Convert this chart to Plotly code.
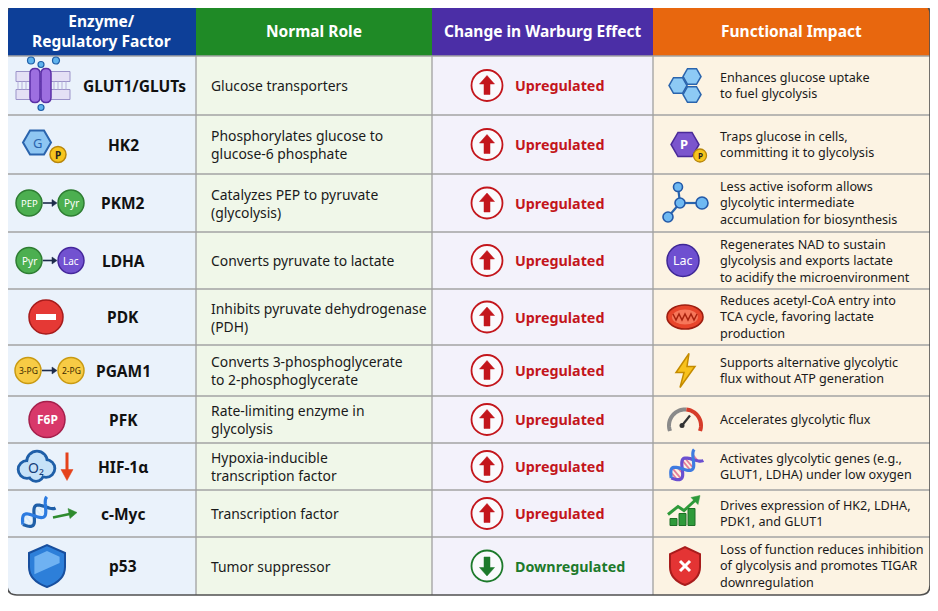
import math
import plotly.graph_objects as go

W, H = 938, 611
OFF = 8  # browser body margin

headers = ["Enzyme/<br>Regulatory Factor", "Normal Role", "Change in Warburg Effect", "Functional Impact"]
factors = ["GLUT1/GLUTs", "HK2", "PKM2", "LDHA", "PDK", "PGAM1", "PFK", "HIF-1α", "c-Myc", "p53"]
roles = [
    "Glucose transporters",
    "Phosphorylates glucose to<br>glucose-6 phosphate",
    "Catalyzes PEP to pyruvate<br>(glycolysis)",
    "Converts pyruvate to lactate",
    "Inhibits pyruvate dehydrogenase<br>(PDH)",
    "Converts 3-phosphoglycerate<br>to 2-phosphoglycerate",
    "Rate-limiting enzyme in<br>glycolysis",
    "Hypoxia-inducible<br>transcription factor",
    "Transcription factor",
    "Tumor suppressor",
]
changes = ["Upregulated"] * 9 + ["Downregulated"]
impacts = [
    "Enhances glucose uptake<br>to fuel glycolysis",
    "Traps glucose in cells,<br>committing it to glycolysis",
    "Less active isoform allows<br>glycolytic intermediate<br>accumulation for biosynthesis",
    "Regenerates NAD to sustain<br>glycolysis and exports lactate<br>to acidify the microenvironment",
    "Reduces acetyl-CoA entry into<br>TCA cycle, favoring lactate<br>production",
    "Supports alternative glycolytic<br>flux without ATP generation",
    "Accelerates glycolytic flux",
    "Activates glycolytic genes (e.g.,<br>GLUT1, LDHA) under low oxygen",
    "Drives expression of HK2, LDHA,<br>PDK1, and GLUT1",
    "Loss of function reduces inhibition<br>of glycolysis and promotes TIGAR<br>downregulation",
]

# ---------------- geometry / style ----------------
col_edges = [7, 196, 432, 653, 930]
row_edges = [4, 56, 115, 174, 232, 289, 345, 396, 443, 490, 537, 595]
head_colors = ["#0d3f98", "#1f8a26", "#4b2ea6", "#e8670e"]
body_colors = ["#eaf2fb", "#f0f7e9", "#f3f2fb", "#fcf3e3"]
FONT = "Noto Sans"

shapes = []
annots = []


def rrect(x0, y0, x1, y1, tl=0, tr=0, br=0, bl=0):
    p = f"M {x0+tl},{y0} L {x1-tr},{y0} "
    p += f"Q {x1},{y0} {x1},{y0+tr} " if tr else ""
    p += f"L {x1},{y1-br} "
    p += f"Q {x1},{y1} {x1-br},{y1} " if br else ""
    p += f"L {x0+bl},{y1} "
    p += f"Q {x0},{y1} {x0},{y1-bl} " if bl else ""
    p += f"L {x0},{y0+tl} "
    p += f"Q {x0},{y0} {x0+tl},{y0} " if tl else ""
    return p + "Z"


def poly(pts, close=True):
    s = "M " + " L ".join(f"{x:.2f},{y:.2f}" for x, y in pts)
    return s + (" Z" if close else "")


def add_path(path, fill=None, line=None, lw=1.0):
    d = dict(type="path", path=path, xref="x", yref="y", layer="above",
             line=dict(color=line if line else "rgba(0,0,0,0)", width=lw if line else 0))
    if fill:
        d["fillcolor"] = fill
    shapes.append(d)


def circle(cx, cy, r, fill=None, line=None, lw=1.0, ry=None):
    ry = r if ry is None else ry
    d = dict(type="circle", xref="x", yref="y", x0=cx - r, x1=cx + r, y0=cy - ry, y1=cy + ry,
             layer="above", line=dict(color=line if line else "rgba(0,0,0,0)", width=lw if line else 0))
    if fill:
        d["fillcolor"] = fill
    shapes.append(d)


def rect(x0, y0, x1, y1, fill, line=None, lw=0):
    shapes.append(dict(type="rect", xref="x", yref="y", x0=x0, x1=x1, y0=y0, y1=y1, layer="above",
                       fillcolor=fill, line=dict(color=line if line else "rgba(0,0,0,0)", width=lw)))


def seg(x0, y0, x1, y1, color, lw):
    shapes.append(dict(type="line", xref="x", yref="y", x0=x0, x1=x1, y0=y0, y1=y1, layer="above",
                       line=dict(color=color, width=lw)))


def text(x, y, s, size, color, bold=False, anchor="center", fam=FONT):
    annots.append(dict(x=x, y=y, xref="x", yref="y", text=f"<b>{s}</b>" if bold else s,
                       showarrow=False, xanchor=anchor, yanchor="middle",
                       xshift=-2 if anchor == "left" else 0,
                       align=anchor if anchor != "center" else "center",
                       font=dict(family=fam, size=size, color=color)))


def hexagon(cx, cy, r, fill, line, lw=1.5):
    pts = [(cx + r * math.cos(math.radians(a)), cy + r * math.sin(math.radians(a))) for a in range(0, 360, 60)]
    add_path(poly(pts), fill, line, lw)


def arrow_small(x0, x1, y, color="#1d2b4a"):
    seg(x0, y, x1 - 4, y, color, 1.6)
    add_path(poly([(x1 - 5, y - 3.5), (x1, y), (x1 - 5, y + 3.5)]), color, color, 0.5)


def shield(cx, cy, w, h, fill, line, light=None):
    p = (f"M {cx-w},{cy-h*0.62} L {cx},{cy-h} L {cx+w},{cy-h*0.62} L {cx+w},{cy+0.05*h} "
         f"Q {cx+w},{cy+0.7*h} {cx},{cy+h} Q {cx-w},{cy+0.7*h} {cx-w},{cy+0.05*h} Z")
    add_path(p, fill, line, 2)
    if light:
        w2, h2 = w * 0.7, h * 0.72
        p2 = (f"M {cx-w2},{cy-h2*0.62} L {cx},{cy-h2} L {cx+w2},{cy-h2*0.62} L {cx+w2},{cy-0.2*h2} "
              f"L {cx-w2},{cy+0.55*h2} Z")
        add_path(p2, light, None)


def dna(cx, cy, c1, c2, rung, length=30, amp=6, ang=-35):
    a = math.radians(ang)
    ca, sa = math.cos(a), math.sin(a)

    def tr(u, v):
        return (cx + u * ca - v * sa, cy + u * sa + v * ca)

    n = 40
    s1 = [tr(-length / 2 + length * i / n, amp * math.sin(2 * math.pi * 1.25 * i / n)) for i in range(n + 1)]
    s2 = [tr(-length / 2 + length * i / n, -amp * math.sin(2 * math.pi * 1.25 * i / n)) for i in range(n + 1)]
    for k in range(1, 9):
        i = int(k * n / 9)
        u = -length / 2 + length * i / n
        v = amp * math.sin(2 * math.pi * 1.25 * i / n)
        p, q = tr(u, v), tr(u, -v)
        seg(p[0], p[1], q[0], q[1], rung, 1.8)
    add_path(poly(s1, False), None, c1, 3.2)
    add_path(poly(s2, False), None, c2, 3.2)


# ---------------- cells ----------------
nrows = len(factors)
for c in range(4):
    x0, x1 = col_edges[c], col_edges[c + 1]
    tl = 10 if c == 0 else 0
    tr = 10 if c == 3 else 0
    shapes.append(dict(type="path", path=rrect(x0, row_edges[0], x1, row_edges[1], tl, tr, 0, 0),
                       xref="x", yref="y", fillcolor=head_colors[c], line=dict(width=0), layer="below"))
    bl = 10 if c == 0 else 0
    br = 10 if c == 3 else 0
    shapes.append(dict(type="path", path=rrect(x0, row_edges[1], x1, row_edges[-1], 0, 0, br, bl),
                       xref="x", yref="y", fillcolor=body_colors[c], line=dict(width=0), layer="below"))
    text((x0 + x1) / 2, (row_edges[0] + row_edges[1]) / 2 + 1, headers[c], 15.5, "white", bold=True)

# grid lines
for r in range(1, nrows + 1):
    shapes.append(dict(type="line", xref="x", yref="y", x0=col_edges[0], x1=col_edges[-1],
                       y0=row_edges[r], y1=row_edges[r], line=dict(color="#a3a3a3", width=1.3), layer="below"))
for c in range(1, 4):
    shapes.append(dict(type="line", xref="x", yref="y", x0=col_edges[c], x1=col_edges[c],
                       y0=row_edges[1], y1=row_edges[-1], line=dict(color="#a0a0a0", width=1.3), layer="below"))

# outer frame
shapes.append(dict(type="path", path=rrect(col_edges[0], row_edges[0], col_edges[-1], row_edges[-1], 10, 10, 10, 10),
                   xref="x", yref="y", line=dict(color="#505050", width=1.6), layer="above"))

# ---------------- texts ----------------
cy = [(row_edges[i + 1] + row_edges[i + 2]) / 2 for i in range(nrows)]
for i in range(nrows):
    text(123 if i else 134, cy[i], factors[i], 15.5, "#111111", bold=True)
    text(211, cy[i], roles[i], 13.9, "#1a1a1a", anchor="left")
    up = changes[i] == "Upregulated"
    col = "#c3161c" if up else "#1d7a2b"
    text(515, cy[i], changes[i], 14.3, col, bold=True, anchor="left")
    text(720, cy[i], impacts[i], 12.6, "#1a1a1a", anchor="left")
    # change icon
    circle(487, cy[i], 15.5, "rgba(255,255,255,0.6)", col, 1.8)
    y = cy[i]
    if up:
        add_path(poly([(487, y - 10), (494.5, y - 1.5), (490, y - 1.5), (490, y + 9), (484, y + 9),
                       (484, y - 1.5), (479.5, y - 1.5)]), col, col, 0.5)
    else:
        add_path(poly([(487, y + 10), (494.5, y + 1.5), (490, y + 1.5), (490, y - 9), (484, y - 9),
                       (484, y + 1.5), (479.5, y + 1.5)]), col, col, 0.5)

# ---------------- column-1 icons ----------------
# GLUT1: membrane with transporter
y = cy[0]
for yy in (y - 9, y + 9):
    rect(16, yy - 5, 70, yy + 5, "#e4e0f5", "#9b93c9", 1)
for xx in range(18, 70, 4):
    seg(xx, y - 4, xx, y + 4, "#b6afd9", 1)
add_path(rrect(30, y - 17, 40, y + 17, 5, 5, 5, 5), "#9d6fe0", "#5b2fa6", 1.5)
add_path(rrect(41, y - 17, 51, y + 17, 5, 5, 5, 5), "#9d6fe0", "#5b2fa6", 1.5)
for (xx, yy, rr) in [(31, y - 25, 3.5), (56, y - 25, 3.5), (41, y - 21, 3), (41, y + 22, 3)]:
    circle(xx, yy, rr, "#5fb3ee", "#1f5fa8", 1.2)

# HK2
y = cy[1]
hexagon(37, y - 2, 14, "#8ec6f2", "#2a64ad", 2)
text(37, y - 2, "G", 13, "#2a64ad")
circle(58, y + 10, 8, "#f7c51e", "#b8860b", 1.5)
text(58, y + 10, "<b>P</b>", 10, "#222")

# PKM2
y = cy[2]
circle(29, y, 13, "#4caf50", "#2e7d32", 1.5)
text(29, y, "PEP", 9.5, "white")
arrow_small(43, 57, y)
circle(71, y, 13, "#4caf50", "#2e7d32", 1.5)
text(71, y, "Pyr", 10, "white")

# LDHA
y = cy[3]
circle(29, y, 13, "#4caf50", "#2e7d32", 1.5)
text(29, y, "Pyr", 10, "white")
arrow_small(43, 57, y)
circle(71, y, 13, "#7252d0", "#45279c", 1.5)
text(71, y, "Lac", 10, "white")

# PDK
y = cy[4]
circle(46, y, 17, "#e53935", "#a61b1b", 1.5)
rect(36, y - 3, 56, y + 3, "white")

# PGAM1
y = cy[5]
circle(28, y, 13, "#f7cb45", "#c99a12", 1.5)
text(28, y, "3-PG", 8.5, "#3a2a00")
arrow_small(42, 57, y)
circle(71, y, 13, "#f7cb45", "#c99a12", 1.5)
text(71, y, "2-PG", 8.5, "#3a2a00")

# PFK
y = cy[6]
circle(47, y, 18, "#d8386a", "#a51f4b", 1.5)
text(47, y, "<b>F6P</b>", 12, "white")

# HIF-1a: cloud with O2 + red down arrow
y = cy[7]
cloud = [(27, y + 3, 9), (37, y - 5, 10.5), (46, y + 2, 9), (36, y + 7, 8)]
for (xx, yy, rr) in cloud:
    circle(xx, yy, rr, "#1f5fa8", "#1f5fa8", 2.5)
for (xx, yy, rr) in cloud:
    circle(xx, yy, rr - 1.6, "#c6e2f8", None)
text(36, y + 1, "O₂", 14, "#163e78")
seg(67, y - 14, 67, y + 5, "#e5421b", 3)
add_path(poly([(61, y + 3), (73, y + 3), (67, y + 14)]), "#e5421b", "#e5421b", 0.5)

# c-Myc: DNA + green arrow
y = cy[8]
dna(37, y, "#1f5fa8", "#2c7be0", "#d7ecfb", length=36, amp=7, ang=-38)
seg(53, y + 4, 72, y, "#2e8b2e", 2.5)
add_path(poly([(68, y - 5), (77, y - 1), (70, y + 5)]), "#2e8b2e", "#2e8b2e", 0.5)

# p53 shield
shield(47, cy[9], 18, 21, "#2d7fd9", "#184f9e", light="#6fb2f2")

# ---------------- column-4 icons ----------------
y = cy[0]
for (xx, yy) in [(678, y), (692, y - 9), (692, y + 9)]:
    hexagon(xx, yy, 9, "#8dcaf5", "#2a64ad", 1.5)

y = cy[1]
hexagon(685, y, 14, "#7b55cd", "#4a2a98", 1.5)
text(684, y - 1, "<b>P</b>", 13, "white")
circle(700, y + 11, 6.5, "#f7c51e", "#b8860b", 1.3)
text(700, y + 11, "<b>P</b>", 8, "#222")

y = cy[2]
nodes = [(678, y - 16, 4.5), (680, y, 5), (702, y, 6), (668, y + 14, 5)]
for (a, b) in [(0, 1), (1, 2), (1, 3)]:
    seg(nodes[a][0], nodes[a][1], nodes[b][0], nodes[b][1], "#2a64ad", 2.2)
for (xx, yy, rr) in nodes:
    circle(xx, yy, rr, "#6fb9f2", "#2359a8", 1.6)

y = cy[3]
circle(683, y, 16, "#6e4fd0", "#3e2796", 1.5)
text(683, y, "Lac", 12.5, "white")

y = cy[4]
circle(685, y, 18, "#e8452b", "#9e1e10", 1.6, ry=12)
circle(685, y, 13, "#f6775a", None, ry=7.5)
wave = [(673 + k * 3, y + (3 if k % 2 else -3)) for k in range(9)]
add_path(poly(wave, False), None, "#a8230f", 1.5)

y = cy[5]
add_path(poly([(689, y - 17), (676, y + 2), (684, y + 2), (680, y + 17), (695, y - 4), (687, y - 4)]),
         "#f8c21c", "#c48b00", 1.5)

y = cy[6]
arc_l = [(685 + 16 * math.cos(math.radians(a)), y + 6 - 16 * math.sin(math.radians(a))) for a in range(200, 80, -5)]
arc_r = [(685 + 16 * math.cos(math.radians(a)), y + 6 - 16 * math.sin(math.radians(a))) for a in range(85, -25, -5)]
add_path(poly(arc_l, False), None, "#8a8a8a", 4)
add_path(poly(arc_r, False), None, "#d63c2a", 4)
seg(682, y + 6, 690, y - 4, "#333333", 2.2)
circle(682, y + 6, 2.5, "#333333", None)

dna(685, cy[7], "#6a4fd0", "#3e7be0", "#e57d9a", length=36, amp=7, ang=-40)

y = cy[8]
for (x0, h) in [(670, 7), (679, 12), (688, 17)]:
    rect(x0, y + 12 - h, x0 + 7, y + 12, "#2e9a3a", "#1d6e27", 1)
add_path(poly([(668, y + 1), (678, y - 7), (684, y - 3), (696, y - 14)], False), None, "#2e9a3a", 3)
add_path(poly([(691, y - 16), (700, y - 18), (698, y - 9)]), "#2e9a3a", "#2e9a3a", 0.5)

y = cy[9]
shield(685, y, 15, 19, "#e43434", "#a81c1c")
seg(680, y - 5, 690, y + 5, "white", 3)
seg(690, y - 5, 680, y + 5, "white", 3)

# ---------------- figure ----------------
fig = go.Figure()
fig.update_layout(
    width=W - OFF, height=H - OFF,
    margin=dict(l=0, r=0, t=0, b=0),
    paper_bgcolor="white", plot_bgcolor="white",
    xaxis=dict(range=[OFF, W], visible=False, fixedrange=True),
    yaxis=dict(range=[H, OFF], visible=False, fixedrange=True),
    shapes=shapes, annotations=annots, showlegend=False,
)
fig.write_html("out.html")
